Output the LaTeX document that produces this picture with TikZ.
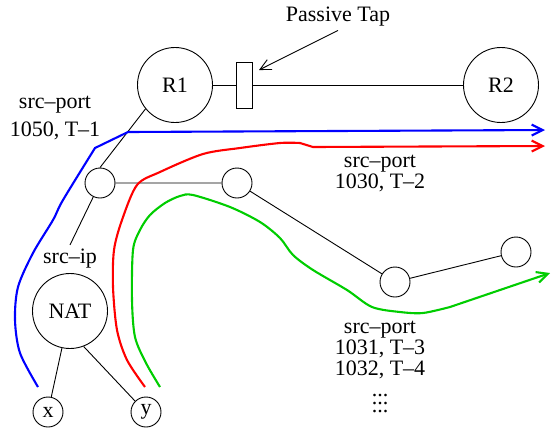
\documentclass[tikz,border=0pt]{standalone}
\usepackage{fontspec}
\setmainfont{Liberation Serif}
\usetikzlibrary{arrows.meta}
\definecolor{flowgreen}{RGB}{0,205,0}

\begin{document}
\begin{tikzpicture}[x=1pt, y=-1pt, line width=0.9pt,
  every node/.style={font=\fontsize{22}{21}\selectfont},
  router/.style={draw, circle, inner sep=0pt, minimum size=75pt},
  host/.style={draw, circle, inner sep=0pt, minimum size=30pt},
  lbl/.style={align=center, inner sep=0pt},
  barb/.style={-{Straight Barb[length=11pt, width=11pt]}},
  flow/.style={barb, line width=2.1pt}
]
  \useasboundingbox (0,0) rectangle (551,429);

  \node[router] (R1) at (175,85) {R1};
  \node[router] (R2) at (501,85) {R2};
  \node[draw, inner sep=0pt, minimum width=16pt, minimum height=46pt] (tap) at (244,85) {};
  \node (taplabel) at (338,17) {Passive Tap};
  \coordinate (tapend) at (259,70);

  \node[host] (a) at (100,183) {};
  \node[host] (b) at (237,183) {};
  \node[host] (c) at (395,282) {};
  \node[host] (d) at (516,252) {};
  \node[router] (nat) at (70,311) {NAT};
  \node[inner sep=4pt] (srcip) at (70,259) {src--ip};
  \node[host] (x) at (48,412) {x};
  \node[host] (y) at (146,412) {y};

  \node[lbl, font=\fontsize{22}{28}\selectfont] (port1) at (55,118) {src--port\\1050, T--1};
  \node[lbl] (port2) at (380,173) {src--port\\1030, T--2};
  \node[lbl] (port3) at (380,350) {src--port\\1031, T--3\\1032, T--4};
  \node[lbl, font=\fontsize{22}{8}\selectfont] (dots) at (380,404) {...\\...\\...};

  \draw (R1) -- (tap) -- (R2);
  \draw[barb] (taplabel.south) -- (tapend);
  \draw (a.north) -- (R1.219);
  \draw (a) -- (b) -- (c) -- (d);
  \draw (a) -- (srcip.north);
  \draw (nat) -- (x);
  \draw (nat.-69) -- (y.135);

  \draw[flow, blue] plot[smooth] coordinates {(38,387) (20,353) (15,320) (18,287)
    (33,253) (53,220) (63,200) (95,148)} -- (128,132) -- (545,130);
  \draw[flow, red] plot[smooth] coordinates {(145,387) (127,360) (117,330) (113,287)
    (114,250) (122,220) (137,185) (160,172) (203,154) (240,148) (280,143) (300,143)}
    -- (313,147) -- (545,146);
  \draw[flow, flowgreen] plot[smooth] coordinates {(160,387) (146,363) (135,337) (132,300)
    (133,250) (140,230) (150,215) (165,203) (180,196) (193,195) (230,207) (260,222)
    (280,238) (293,255) (313,270) (347,290) (372,307) (400,312) (423,313) (450,307)}
    -- (550,273);
\end{tikzpicture}
\end{document}
